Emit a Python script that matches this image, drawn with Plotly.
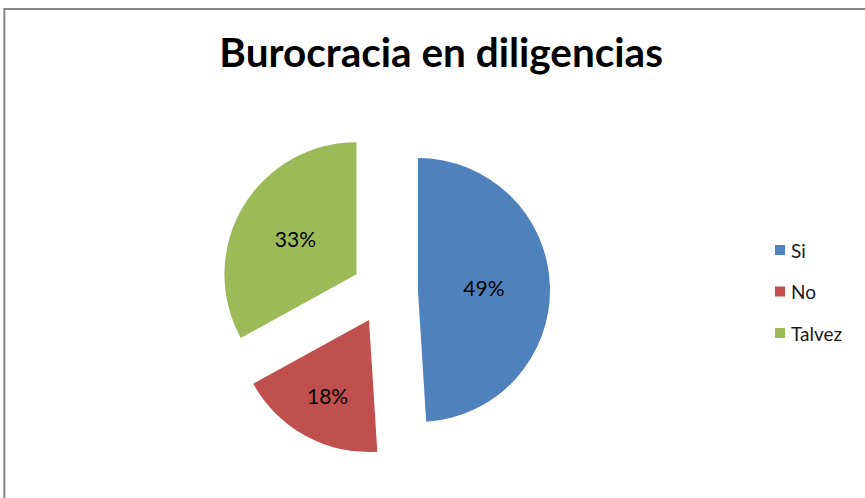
import plotly.graph_objects as go

labels = ["Si", "No", "Talvez"]
values = [49, 18, 33]
colors = ["#4F81BD", "#C0504D", "#9BBB59"]

FONT = "Lato, Open Sans, sans-serif"

fig = go.Figure(go.Pie(
    labels=labels,
    values=values,
    sort=False,
    direction="clockwise",
    rotation=0,
    pull=[0.25, 0.25, 0.25],
    marker=dict(colors=colors, line=dict(width=0)),
    texttemplate="%{percent:.0%}",
    textposition="inside",
    insidetextorientation="horizontal",
    textfont=dict(family=FONT, size=21, color="black"),
    domain=dict(x=[0.254, 0.636], y=[0.084, 0.747]),
    hoverinfo="label+percent",
    showlegend=False,
))

# legend drawn by hand so the item spacing matches the original
W, H = 865, 498
leg_x, leg_y0, leg_dy = 775, 250, 41.5
shapes = [dict(type="rect", xref="paper", yref="paper", x0=0.005, x1=1.2, y0=-0.2, y1=0.982,
               line=dict(color="#868686", width=2))]
annotations = []
for i, (lab, col) in enumerate(zip(labels, colors)):
    yc = leg_y0 + i * leg_dy
    shapes.append(dict(type="rect", xref="paper", yref="paper",
                       x0=leg_x / W, x1=(leg_x + 10) / W,
                       y0=1 - (yc + 5) / H, y1=1 - (yc - 5) / H,
                       fillcolor=col, line=dict(width=0)))
    annotations.append(dict(text=lab, xref="paper", yref="paper", x=(leg_x + 14) / W,
                            y=1 - yc / H, xanchor="left", yanchor="middle", showarrow=False,
                            font=dict(family=FONT, size=19, color="#1a1a1a")))

fig.update_layout(
    width=W, height=H,
    margin=dict(l=0, r=0, t=0, b=0),
    paper_bgcolor="white",
    title=dict(text="<b>Burocracia en diligencias</b>", x=0.51, xanchor="center",
               y=0.894, yanchor="middle",
               font=dict(family=FONT, size=40.5, color="black")),
    shapes=shapes,
    annotations=annotations,
)

# drop the default 8px page margin so the figure sits at the window's corner
fig.write_html("out.html", config={"displayModeBar": False},
               post_script="document.body.style.margin='0';")
